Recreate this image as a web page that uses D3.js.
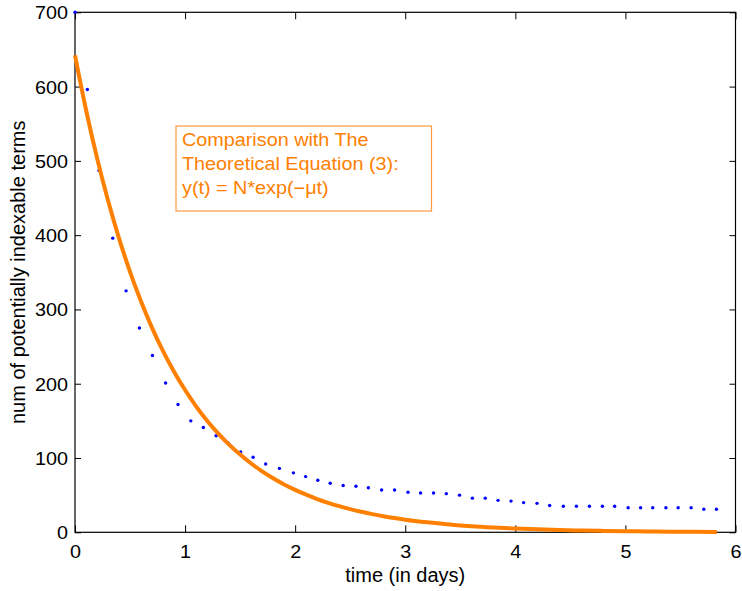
<!DOCTYPE html>
<html>
<head>
<meta charset="utf-8">
<script src="https://cdn.jsdelivr.net/npm/d3@7"></script>
<style>
  html, body { margin: 0; padding: 0; background: #fff; }
  svg { display: block; font-family: "Liberation Sans", Arial, Helvetica, sans-serif; }
</style>
</head>
<body>
<svg id="chart" width="742" height="591"></svg>
<script>
// ---- data ----
const obsTime = [0, 0.112, 0.218, 0.343, 0.464, 0.585, 0.703, 0.823, 0.936, 1.052,
  1.166, 1.282, 1.394, 1.505, 1.618, 1.732, 1.857, 1.984, 2.095, 2.206,
  2.318, 2.436, 2.552, 2.665, 2.785, 2.903, 3.025, 3.139, 3.257, 3.373,
  3.493, 3.610, 3.727, 3.843, 3.961, 4.075, 4.197, 4.312, 4.436, 4.555,
  4.673, 4.791, 4.902, 5.025, 5.138, 5.248, 5.368, 5.479, 5.597, 5.712, 5.827];
const obsTerms = [700, 596, 487, 396, 325, 275, 238, 201, 172, 150,
  141, 130, 120, 108, 101, 92, 86, 80, 75, 70,
  66, 63, 62, 60, 57, 57, 54, 53, 53, 52,
  50, 46, 46, 43, 42, 40, 39, 36, 35, 35,
  35, 35, 35, 33, 33, 33, 33, 33, 33, 31, 31];

const fitTime = [0, 0.1, 0.2, 0.3, 0.4, 0.5, 0.6, 0.7, 0.8, 0.9, 1.0,
  1.1, 1.2, 1.3, 1.4, 1.5, 1.6, 1.7, 1.8, 1.9, 2.0,
  2.1, 2.2, 2.3, 2.4, 2.5, 2.6, 2.7, 2.8, 2.9, 3.0,
  3.2, 3.4, 3.6, 3.8, 4.0, 4.2, 4.4, 4.6, 4.8, 5.0, 5.2, 5.4, 5.6, 5.83];
const fitTerms = [642, 568.8, 504.0, 446.6, 395.7, 350.6, 310.6, 275.2, 243.9, 216.1, 191.5,
  169.6, 150.3, 133.2, 118.0, 104.6, 92.6, 82.1, 72.7, 64.4, 57.1,
  50.6, 44.8, 39.7, 35.2, 31.2, 27.6, 24.5, 21.7, 19.2, 17.0,
  13.4, 10.5, 8.2, 6.5, 5.1, 4.0, 3.1, 2.4, 1.9, 1.5, 1.2, 0.9, 0.7, 0.55];

const xTicks = [0, 1, 2, 3, 4, 5, 6];
const yTicks = [0, 100, 200, 300, 400, 500, 600, 700];
const xLabel = "time (in days)";
const yLabel = "num of potentially indexable terms";
const legendLines = ["Comparison with The", "Theoretical Equation (3):", "y(t) = N*exp(\u2212\u03bct)"];

// ---- layout ----
const mLeft = 75, mRight = 735.5, mTop = 12.3, mBottom = 532.3;
const svg = d3.select("#chart");
const x = d3.scaleLinear().domain([0, 6]).range([mLeft, mRight]);
const y = d3.scaleLinear().domain([0, 700]).range([mBottom, mTop]);

const tickFont = 18, tickSx = 1.1;

// axes (ticks inward, MATLAB style)
const gx = svg.append("g").attr("transform", `translate(0,${mBottom})`)
  .call(d3.axisBottom(x).tickValues(xTicks).tickSize(-7).tickPadding(0).tickFormat(d3.format("d")));
gx.select(".domain").remove();
gx.selectAll("text").attr("y", 0).attr("dy", 26).attr("font-size", tickFont)
  .attr("font-family", "Liberation Sans, Arial, sans-serif").attr("fill", "#000")
  .attr("transform", `scale(${tickSx},1)`);
gx.selectAll("line").attr("stroke", "#000");

const gxTop = svg.append("g").attr("transform", `translate(0,${mTop})`)
  .call(d3.axisTop(x).tickValues(xTicks).tickSize(-7).tickFormat(""));
gxTop.select(".domain").remove();
gxTop.selectAll("line").attr("stroke", "#000");

const gy = svg.append("g").attr("transform", `translate(${mLeft},0)`)
  .call(d3.axisLeft(y).tickValues(yTicks).tickSize(-6).tickPadding(0).tickFormat(d3.format("d")));
gy.select(".domain").remove();
gy.selectAll("text").attr("x", -7 / tickSx).attr("dy", "0.36em").attr("font-size", tickFont)
  .attr("font-family", "Liberation Sans, Arial, sans-serif").attr("fill", "#000")
  .attr("transform", `scale(${tickSx},1)`);
gy.selectAll("line").attr("stroke", "#000");

const gyRight = svg.append("g").attr("transform", `translate(${mRight},0)`)
  .call(d3.axisRight(y).tickValues(yTicks).tickSize(-6).tickFormat(""));
gyRight.select(".domain").remove();
gyRight.selectAll("line").attr("stroke", "#000");

// frame
svg.append("rect").attr("x", mLeft).attr("y", mTop)
  .attr("width", mRight - mLeft).attr("height", mBottom - mTop)
  .attr("fill", "none").attr("stroke", "#000").attr("stroke-width", 1.2);

// observed points
svg.append("g").selectAll("circle").data(obsTime).join("circle")
  .attr("cx", (d) => x(d)).attr("cy", (d, i) => y(obsTerms[i]))
  .attr("r", 1.7).attr("fill", "#0000ff");

// fitted curve
const line = d3.line().x((d) => x(d)).y((d, i) => y(fitTerms[i])).curve(d3.curveMonotoneX);
svg.append("path").datum(fitTime).attr("d", line)
  .attr("fill", "none").attr("stroke", "#ff8000").attr("stroke-width", 4)
  .attr("stroke-linejoin", "round");

// axis labels
svg.append("text").attr("x", (mLeft + mRight) / 2).attr("y", 582)
  .attr("text-anchor", "middle").attr("font-size", 20).attr("fill", "#000").text(xLabel);
svg.append("text").attr("transform", `translate(25,${(mTop + mBottom) / 2}) rotate(-90)`)
  .attr("text-anchor", "middle").attr("font-size", 20).attr("fill", "#000").text(yLabel);

// legend box
const lg = svg.append("g");
lg.append("rect").attr("x", 176).attr("y", 126).attr("width", 255.5).attr("height", 85)
  .attr("fill", "#fff").attr("stroke", "#ff9a40").attr("stroke-width", 1.2);
const legSx = 1.1;
lg.selectAll("text").data(legendLines).join("text")
  .attr("transform", (d, i) => `translate(182,${145.5 + i * 24}) scale(${legSx},1)`)
  .attr("font-size", 18).attr("fill", "#ff8000").text((d) => d);
</script>
</body>
</html>
